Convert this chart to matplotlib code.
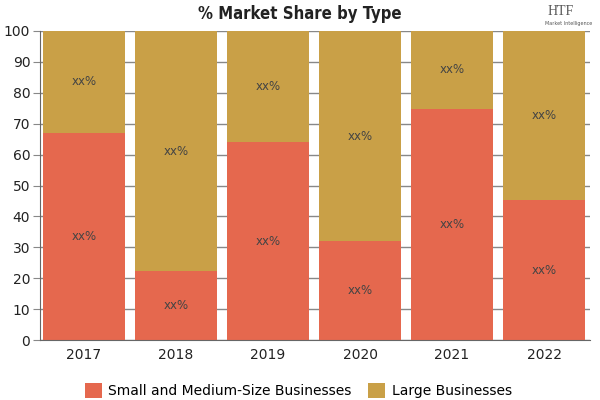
import numpy as np
from matplotlib import pyplot as plt

years = ["2017", "2018", "2019", "2020", "2021", "2022"]
small_medium = [67, 22.3, 64, 32, 74.8, 45.3]
large = [100 - v for v in small_medium]
series_names = ["Small and Medium-Size Businesses", "Large Businesses"]
colors = ["#E5684E", "#C9A047"]

fig = plt.figure(figsize=(6, 4), dpi=100)
ax = fig.add_axes([0.0667, 0.15, 0.9167, 0.7725])

x = np.arange(len(years))
ax.bar(x, small_medium, width=0.89, color=colors[0], label=series_names[0], zorder=2)
ax.bar(x, large, width=0.89, bottom=small_medium, color=colors[1], label=series_names[1], zorder=2)

# labels in the middle of each segment
for i in range(len(years)):
    ax.text(x[i], small_medium[i] / 2, "xx%", ha="center", va="center", fontsize=8.5, color="#444444", zorder=3)
    ax.text(x[i], small_medium[i] + large[i] / 2, "xx%", ha="center", va="center", fontsize=8.5, color="#444444", zorder=3)

ax.set_xlim(-0.478, len(years) - 0.5)
ax.set_ylim(0, 100)
ax.set_yticks(range(0, 101, 10))
ax.set_xticks(x)
ax.set_xticklabels(years)
ax.yaxis.grid(True, color="#888888", linewidth=1, zorder=0)
ax.set_axisbelow(True)
ax.tick_params(axis="x", labelsize=10, colors="#222222", length=0, pad=6)
ax.tick_params(axis="y", labelsize=10, labelcolor="#222222", color="#888888", length=5, pad=2)
for side in ["top", "right"]:
    ax.spines[side].set_visible(False)
ax.spines["left"].set_color("#666666")
ax.spines["bottom"].set_color("#666666")

fig.text(0.5, 0.965, "% Market Share by Type", ha="center", va="center", fontsize=12,
         fontweight="bold", fontstretch="condensed", color="#222222")

# logo placeholder
fig.text(0.935, 0.972, "HTF", ha="center", va="center", fontsize=10, family="Liberation Serif", color="#555555")
fig.text(0.948, 0.94, "Market Intelligence", ha="center", va="center", fontsize=3.5, color="#555555")

ax.legend(loc="upper center", bbox_to_anchor=(0.47, -0.1), ncol=2, frameon=False, fontsize=10,
          handlelength=1.2, handleheight=1.2, handletextpad=0.5, columnspacing=1.2)

fig.savefig("out.png", dpi=100)
